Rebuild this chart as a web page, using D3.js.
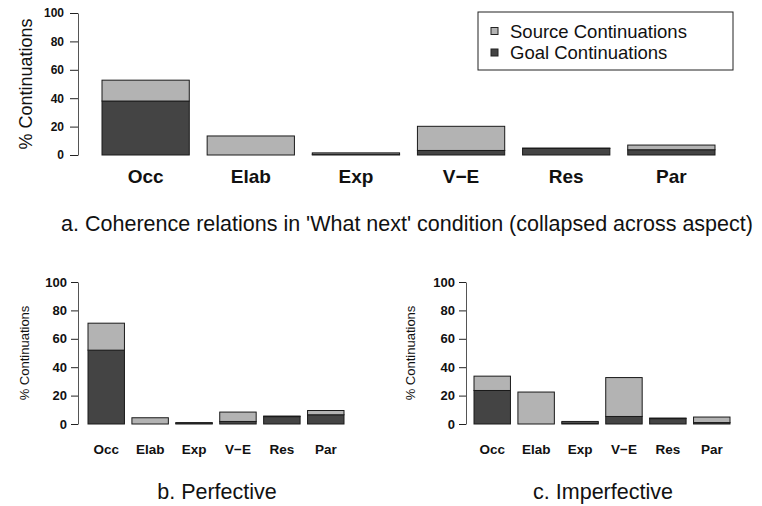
<!DOCTYPE html>
<html lang="en">
  <head>
    <meta charset="UTF-8" />
    <title>Coherence relations</title>
    <style>
      body { margin: 0; background: #fff; }
      text { font-family: "Liberation Sans", Arial, Helvetica, sans-serif; }
    </style>
    <script src="https://d3js.org/d3.v7.min.js"></script>
  </head>
  <body>
    <svg width="762" height="506"></svg>
    <script>
      var categories = ["Occ", "Elab", "Exp", "V\u2212E", "Res", "Par"];
      var yTicks = [0, 20, 40, 60, 80, 100];

      // goal = dark lower part, source = light upper part (stacked)
      var whatNextGoal = [38, 0, 0.5, 3.2, 4.6, 3.7];
      var whatNextSource = [14.7, 13.4, 1, 17, 0.3, 3.3];
      var perfectiveGoal = [52, 0, 0.5, 1.8, 5.2, 6.5];
      var perfectiveSource = [19, 4.4, 0.5, 6.6, 0.4, 3];
      var imperfectiveGoal = [23.6, 0, 0.8, 5.3, 3.8, 1];
      var imperfectiveSource = [10.1, 22.5, 1, 27.4, 0.4, 3.9];

      var legendLabels = ["Source Continuations", "Goal Continuations"];
      var captions = [
        "a. Coherence relations in 'What next' condition (collapsed across aspect)",
        "b. Perfective",
        "c. Imperfective",
      ];

      var light = "#b3b3b3";
      var dark = "#444444";
      var svg = d3.select("svg");

      function panel(opt) {
        var rows = categories.map((c, i) => ({
          cat: c,
          goal: opt.goal[i],
          source: opt.source[i],
        }));
        var series = d3.stack().keys(["goal", "source"])(rows);

        var x = d3
          .scaleBand()
          .domain(categories)
          .range([opt.x0, opt.x1])
          .paddingInner(0.17)
          .paddingOuter(0);
        var y = d3.scaleLinear().domain([0, 100]).range([opt.yb, opt.yt]);

        var g = svg.append("g");

        g.append("g")
          .selectAll("g")
          .data(series)
          .join("g")
          .attr("fill", (d) => (d.key == "goal" ? dark : light))
          .selectAll("rect")
          .data((d) => d)
          .join("rect")
          .attr("x", (d) => x(d.data.cat))
          .attr("width", x.bandwidth())
          .attr("y", (d) => y(d[1]))
          .attr("height", (d) => y(d[0]) - y(d[1]))
          .attr("stroke", "#1a1a1a")
          .attr("stroke-width", 1);

        var axis = d3
          .axisLeft(y)
          .tickValues(yTicks)
          .tickSizeInner(opt.tick)
          .tickSizeOuter(0)
          .tickPadding(opt.tickPad);
        var ag = g
          .append("g")
          .attr("transform", "translate(" + opt.axisX + ",0)")
          .call(axis);
        ag.select(".domain").attr("stroke", "#555");
        ag.selectAll(".tick line").attr("stroke", "#222");
        ag.selectAll(".tick text")
          .attr("font-size", opt.tickFont)
          .attr("font-weight", "bold")
          .attr("fill", "#111")
          .attr("font-family", "Liberation Sans, Arial, sans-serif");

        g.append("text")
          .attr(
            "transform",
            "translate(" + opt.labelX + "," + (opt.yt + opt.yb) / 2 + ") rotate(-90)"
          )
          .attr("text-anchor", "middle")
          .attr("font-size", opt.labelFont)
          .attr("fill", "#111")
          .text("% Continuations");

        g.append("g")
          .selectAll("text")
          .data(categories)
          .join("text")
          .attr("x", (d) => x(d) + x.bandwidth() / 2)
          .attr("y", opt.catY)
          .attr("text-anchor", "middle")
          .attr("font-size", opt.catFont)
          .attr("font-weight", "bold")
          .attr("fill", "#111")
          .text((d) => d);

        g.append("text")
          .attr("x", opt.capX)
          .attr("y", opt.capY)
          .attr("text-anchor", "middle")
          .attr("font-size", 21.5)
          .attr("fill", "#111")
          .text(opt.caption);
      }

      panel({
        goal: whatNextGoal, source: whatNextSource,
        x0: 102, x1: 715, yt: 13, yb: 155, axisX: 78,
        tick: 8, tickPad: 6, tickFont: 12, labelX: 32, labelFont: 18,
        catY: 183, catFont: 19, caption: captions[0], capX: 407, capY: 231,
      });
      panel({
        goal: perfectiveGoal, source: perfectiveSource,
        x0: 88, x1: 344, yt: 282, yb: 424, axisX: 78,
        tick: 7, tickPad: 4, tickFont: 13, labelX: 29, labelFont: 13,
        catY: 454, catFont: 13.5, caption: captions[1], capX: 217, capY: 499,
      });
      panel({
        goal: imperfectiveGoal, source: imperfectiveSource,
        x0: 474, x1: 730, yt: 282, yb: 424, axisX: 466,
        tick: 7, tickPad: 4, tickFont: 13, labelX: 415, labelFont: 13,
        catY: 454, catFont: 13.5, caption: captions[2], capX: 603, capY: 499,
      });

      // legend
      var lg = svg.append("g").attr("transform", "translate(478,12)");
      lg.append("rect")
        .attr("width", 255)
        .attr("height", 58)
        .attr("fill", "#fff")
        .attr("stroke", "#222");
      var items = lg
        .selectAll("g.item")
        .data(legendLabels)
        .join("g")
        .attr("class", "item")
        .attr("transform", (d, i) => "translate(13," + (15.5 + i * 21.5) + ")");
      items
        .append("rect")
        .attr("width", 7)
        .attr("height", 7)
        .attr("fill", (d, i) => (i == 0 ? light : dark))
        .attr("stroke", "#222");
      items
        .append("text")
        .attr("x", 19)
        .attr("y", 10)
        .attr("font-size", 18.5)
        .attr("fill", "#111")
        .text((d) => d);
    </script>
  </body>
</html>
